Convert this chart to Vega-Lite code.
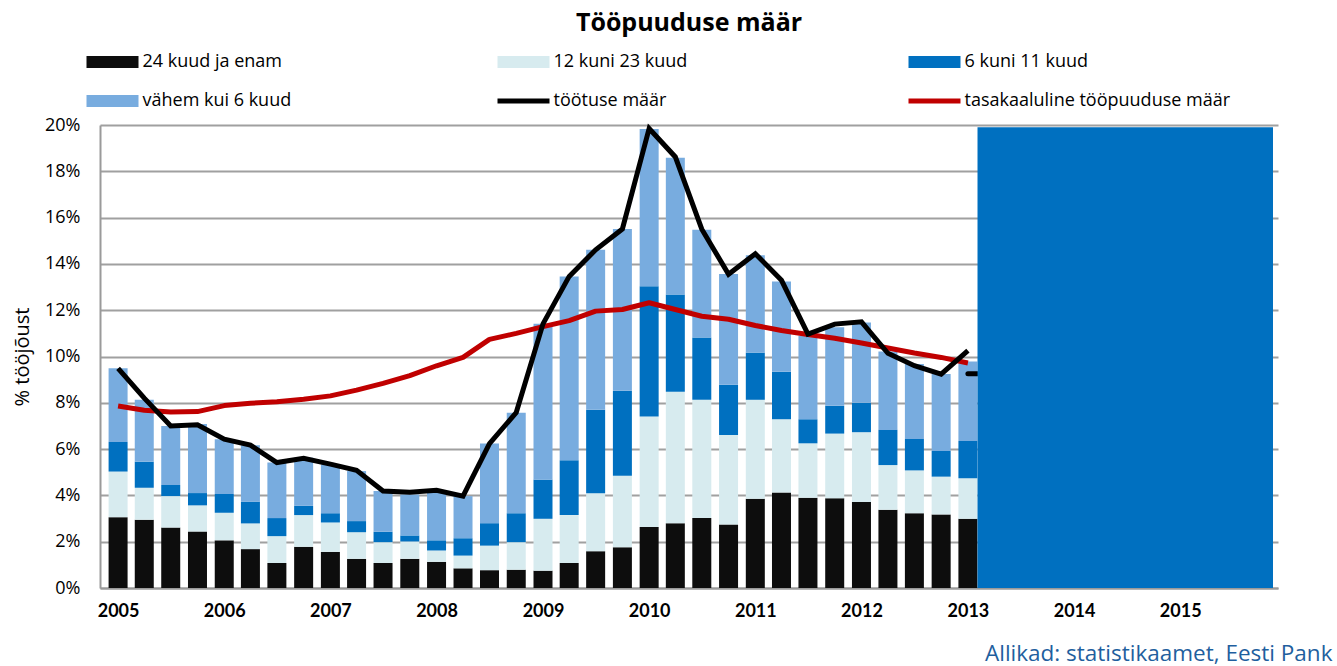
{
  "$schema": "https://vega.github.io/schema/vega-lite/v6.json",
  "width": 1178,
  "height": 463,
  "autosize": {"type": "none"},
  "padding": {"left": 100, "top": 125, "right": 59, "bottom": 78},
  "background": "white",
  "title": {"text": "Tööpuuduse määr", "font": "Open Sans", "fontSize": 25, "fontWeight": "bold", "color": "#000000", "anchor": "middle", "offset": 17},
  "config": {
    "view": {"stroke": null},
    "axis": {"labelFont": "Open Sans", "titleFont": "Open Sans", "labelColor": "#000000", "titleColor": "#000000", "domainColor": "#9a9a9a", "domainWidth": 2, "ticks": false, "gridColor": "#a0a0a0", "gridWidth": 2}
  },
  "datasets": {
    "tootus": [
      {"kvartal": "2005-01-01", "24 kuud ja enam": 3.06, "12 kuni 23 kuud": 1.97, "6 kuni 11 kuud": 1.28, "vähem kui 6 kuud": 3.18, "töötuse määr": 9.49, "tasakaaluline tööpuuduse määr": 7.86},
      {"kvartal": "2005-04-01", "24 kuud ja enam": 2.95, "12 kuni 23 kuud": 1.38, "6 kuni 11 kuud": 1.13, "vähem kui 6 kuud": 2.67, "töötuse määr": 8.2, "tasakaaluline tööpuuduse määr": 7.68},
      {"kvartal": "2005-07-01", "24 kuud ja enam": 2.61, "12 kuni 23 kuud": 1.36, "6 kuni 11 kuud": 0.48, "vähem kui 6 kuud": 2.55, "töötuse määr": 7.0, "tasakaaluline tööpuuduse määr": 7.6},
      {"kvartal": "2005-10-01", "24 kuud ja enam": 2.44, "12 kuni 23 kuud": 1.13, "6 kuni 11 kuud": 0.53, "vähem kui 6 kuud": 2.98, "töötuse määr": 7.05, "tasakaaluline tööpuuduse määr": 7.62},
      {"kvartal": "2006-01-01", "24 kuud ja enam": 2.06, "12 kuni 23 kuud": 1.19, "6 kuni 11 kuud": 0.81, "vähem kui 6 kuud": 2.37, "töötuse määr": 6.43, "tasakaaluline tööpuuduse määr": 7.88},
      {"kvartal": "2006-04-01", "24 kuud ja enam": 1.68, "12 kuni 23 kuud": 1.11, "6 kuni 11 kuud": 0.94, "vähem kui 6 kuud": 2.44, "töötuse määr": 6.17, "tasakaaluline tööpuuduse määr": 7.98},
      {"kvartal": "2006-07-01", "24 kuud ja enam": 1.08, "12 kuni 23 kuud": 1.16, "6 kuni 11 kuud": 0.78, "vähem kui 6 kuud": 2.4, "töötuse määr": 5.42, "tasakaaluline tööpuuduse määr": 8.05},
      {"kvartal": "2006-10-01", "24 kuud ja enam": 1.78, "12 kuni 23 kuud": 1.37, "6 kuni 11 kuud": 0.4, "vähem kui 6 kuud": 2.08, "töötuse määr": 5.6, "tasakaaluline tööpuuduse määr": 8.15},
      {"kvartal": "2007-01-01", "24 kuud ja enam": 1.56, "12 kuni 23 kuud": 1.27, "6 kuni 11 kuud": 0.4, "vähem kui 6 kuud": 2.11, "töötuse määr": 5.35, "tasakaaluline tööpuuduse määr": 8.3},
      {"kvartal": "2007-04-01", "24 kuud ja enam": 1.26, "12 kuni 23 kuud": 1.15, "6 kuni 11 kuud": 0.48, "vähem kui 6 kuud": 2.16, "töötuse määr": 5.08, "tasakaaluline tööpuuduse määr": 8.55},
      {"kvartal": "2007-07-01", "24 kuud ja enam": 1.08, "12 kuni 23 kuud": 0.9, "6 kuni 11 kuud": 0.45, "vähem kui 6 kuud": 1.76, "töötuse määr": 4.19, "tasakaaluline tööpuuduse määr": 8.84},
      {"kvartal": "2007-10-01", "24 kuud ja enam": 1.26, "12 kuni 23 kuud": 0.75, "6 kuni 11 kuud": 0.26, "vähem kui 6 kuud": 1.77, "töötuse määr": 4.14, "tasakaaluline tööpuuduse määr": 9.17},
      {"kvartal": "2008-01-01", "24 kuud ja enam": 1.13, "12 kuni 23 kuud": 0.49, "6 kuni 11 kuud": 0.44, "vähem kui 6 kuud": 2.13, "töötuse määr": 4.22, "tasakaaluline tööpuuduse määr": 9.6},
      {"kvartal": "2008-04-01", "24 kuud ja enam": 0.85, "12 kuni 23 kuud": 0.55, "6 kuni 11 kuud": 0.75, "vähem kui 6 kuud": 1.82, "töötuse määr": 3.97, "tasakaaluline tööpuuduse määr": 9.96},
      {"kvartal": "2008-07-01", "24 kuud ja enam": 0.77, "12 kuni 23 kuud": 1.06, "6 kuni 11 kuud": 0.97, "vähem kui 6 kuud": 3.44, "töötuse määr": 6.24, "tasakaaluline tööpuuduse määr": 10.74},
      {"kvartal": "2008-10-01", "24 kuud ja enam": 0.79, "12 kuni 23 kuud": 1.19, "6 kuni 11 kuud": 1.25, "vähem kui 6 kuud": 4.34, "töötuse määr": 7.58, "tasakaaluline tööpuuduse määr": 11.0},
      {"kvartal": "2009-01-01", "24 kuud ja enam": 0.75, "12 kuni 23 kuud": 2.24, "6 kuni 11 kuud": 1.69, "vähem kui 6 kuud": 6.73, "töötuse määr": 11.41, "tasakaaluline tööpuuduse määr": 11.29},
      {"kvartal": "2009-04-01", "24 kuud ja enam": 1.08, "12 kuni 23 kuud": 2.07, "6 kuni 11 kuud": 2.37, "vähem kui 6 kuud": 7.94, "töötuse määr": 13.46, "tasakaaluline tööpuuduse määr": 11.55},
      {"kvartal": "2009-07-01", "24 kuud ja enam": 1.59, "12 kuni 23 kuud": 2.5, "6 kuni 11 kuud": 3.61, "vähem kui 6 kuud": 6.91, "töötuse määr": 14.61, "tasakaaluline tööpuuduse määr": 11.96},
      {"kvartal": "2009-10-01", "24 kuud ja enam": 1.76, "12 kuni 23 kuud": 3.09, "6 kuni 11 kuud": 3.67, "vähem kui 6 kuud": 6.99, "töötuse määr": 15.51, "tasakaaluline tööpuuduse määr": 12.03},
      {"kvartal": "2010-01-01", "24 kuud ja enam": 2.63, "12 kuni 23 kuud": 4.78, "6 kuni 11 kuud": 5.62, "vähem kui 6 kuud": 6.8, "töötuse määr": 19.85, "tasakaaluline tööpuuduse määr": 12.32},
      {"kvartal": "2010-04-01", "24 kuud ja enam": 2.8, "12 kuni 23 kuud": 5.68, "6 kuni 11 kuud": 4.2, "vähem kui 6 kuud": 5.91, "töötuse määr": 18.62, "tasakaaluline tööpuuduse määr": 12.03},
      {"kvartal": "2010-07-01", "24 kuud ja enam": 3.02, "12 kuni 23 kuud": 5.11, "6 kuni 11 kuud": 2.69, "vähem kui 6 kuud": 4.66, "töötuse määr": 15.5, "tasakaaluline tööpuuduse määr": 11.74},
      {"kvartal": "2010-10-01", "24 kuud ja enam": 2.74, "12 kuni 23 kuud": 3.87, "6 kuni 11 kuud": 2.17, "vähem kui 6 kuud": 4.78, "töötuse määr": 13.55, "tasakaaluline tööpuuduse määr": 11.61},
      {"kvartal": "2011-01-01", "24 kuud ja enam": 3.86, "12 kuni 23 kuud": 4.27, "6 kuni 11 kuud": 2.04, "vähem kui 6 kuud": 4.2, "töötuse määr": 14.44, "tasakaaluline tööpuuduse määr": 11.34},
      {"kvartal": "2011-04-01", "24 kuud ja enam": 4.12, "12 kuni 23 kuud": 3.17, "6 kuni 11 kuud": 2.05, "vähem kui 6 kuud": 3.9, "töötuse määr": 13.29, "tasakaaluline tööpuuduse määr": 11.12},
      {"kvartal": "2011-07-01", "24 kuud ja enam": 3.9, "12 kuni 23 kuud": 2.35, "6 kuni 11 kuud": 1.04, "vähem kui 6 kuud": 3.61, "töötuse määr": 10.97, "tasakaaluline tööpuuduse määr": 10.95},
      {"kvartal": "2011-10-01", "24 kuud ja enam": 3.88, "12 kuni 23 kuud": 2.79, "6 kuni 11 kuud": 1.2, "vähem kui 6 kuud": 3.39, "töötuse määr": 11.4, "tasakaaluline tööpuuduse määr": 10.79},
      {"kvartal": "2012-01-01", "24 kuud ja enam": 3.71, "12 kuni 23 kuud": 3.02, "6 kuni 11 kuud": 1.27, "vähem kui 6 kuud": 3.47, "töötuse määr": 11.5, "tasakaaluline tööpuuduse määr": 10.58},
      {"kvartal": "2012-04-01", "24 kuud ja enam": 3.38, "12 kuni 23 kuud": 1.93, "6 kuni 11 kuud": 1.52, "vähem kui 6 kuud": 3.39, "töötuse määr": 10.14, "tasakaaluline tööpuuduse määr": 10.37},
      {"kvartal": "2012-07-01", "24 kuud ja enam": 3.23, "12 kuni 23 kuud": 1.85, "6 kuni 11 kuud": 1.36, "vähem kui 6 kuud": 3.24, "töötuse määr": 9.6, "tasakaaluline tööpuuduse määr": 10.15},
      {"kvartal": "2012-10-01", "24 kuud ja enam": 3.18, "12 kuni 23 kuud": 1.63, "6 kuni 11 kuud": 1.11, "vähem kui 6 kuud": 3.32, "töötuse määr": 9.24, "tasakaaluline tööpuuduse määr": 9.96},
      {"kvartal": "2013-01-01", "24 kuud ja enam": 2.99, "12 kuni 23 kuud": 1.75, "6 kuni 11 kuud": 1.61, "vähem kui 6 kuud": 3.43, "töötuse määr": 10.25, "tasakaaluline tööpuuduse määr": 9.72}
    ],
    "prognoos": [
      {"kvartal": "2013-01-01", "töötuse määr": 9.25},
      {"kvartal": "2013-04-01", "töötuse määr": 9.25}
    ],
    "prognoosiala": [
      {"algus": "2013-02-03", "lõpp": "2015-11-16", "alt": 0, "üla": 19.9}
    ]
  },
  "encoding": {
    "x": {
      "field": "kvartal", "type": "temporal",
      "scale": {"type": "utc", "domain": [{"year": 2004, "month": 11, "date": 17, "utc": true}, {"year": 2015, "month": 11, "date": 16, "utc": true}]},
      "axis": {
        "values": [
          {"year": 2005, "month": 1, "date": 1, "utc": true}, {"year": 2006, "month": 1, "date": 1, "utc": true},
          {"year": 2007, "month": 1, "date": 1, "utc": true}, {"year": 2008, "month": 1, "date": 1, "utc": true},
          {"year": 2009, "month": 1, "date": 1, "utc": true}, {"year": 2010, "month": 1, "date": 1, "utc": true},
          {"year": 2011, "month": 1, "date": 1, "utc": true}, {"year": 2012, "month": 1, "date": 1, "utc": true},
          {"year": 2013, "month": 1, "date": 1, "utc": true}, {"year": 2014, "month": 1, "date": 1, "utc": true},
          {"year": 2015, "month": 1, "date": 1, "utc": true}
        ],
        "format": "%Y", "grid": false, "labelFont": "Lato", "labelFontSize": 18, "labelFontWeight": "bold", "labelPadding": 14, "labelFlush": false,
        "title": "Allikad: statistikaamet, Eesti Pank", "titleFont": "Open Sans", "titleFontSize": 22.5, "titleFontWeight": "normal", "titleColor": "#1f5f9e",
        "titleAnchor": "end", "titleAlign": "right", "titleX": 1232, "titleY": 72, "titleBaseline": "alphabetic"
      }
    }
  },
  "layer": [
    {
      "data": {"name": "tootus"},
      "transform": [
        {"fold": ["24 kuud ja enam", "12 kuni 23 kuud", "6 kuni 11 kuud", "vähem kui 6 kuud"], "as": ["liik", "vaartus"]},
        {"window": [{"op": "row_number", "as": "jarjekord"}], "groupby": ["kvartal"]}
      ],
      "mark": {"type": "bar", "size": 19},
      "encoding": {
        "y": {
          "field": "vaartus", "type": "quantitative", "stack": "zero",
          "scale": {"domain": [0, 20], "nice": false},
          "axis": {"values": [0, 2, 4, 6, 8, 10, 12, 14, 16, 18, 20], "labelExpr": "datum.value + '%'", "labelFontSize": 18, "labelPadding": 20, "title": "% tööjõust", "titleFontSize": 20, "titleFontWeight": "normal", "titlePadding": 12}
        },
        "order": {"field": "jarjekord", "type": "quantitative", "sort": "ascending"},
        "color": {
          "field": "liik", "type": "nominal",
          "scale": {
            "domain": ["24 kuud ja enam", "12 kuni 23 kuud", "6 kuni 11 kuud", "vähem kui 6 kuud", "töötuse määr", "tasakaaluline tööpuuduse määr"],
            "range": ["#0d0d0d", "#d7ebef", "#0070c0", "#78acdf", "#000000", "#c00000"]
          },
          "legend": {
            "orient": "none", "legendX": 3.5, "legendY": -72, "direction": "horizontal", "columns": 3, "gridAlign": "all", "columnPadding": 89, "rowPadding": 21,
            "title": null, "padding": 0, "symbolSize": 169, "labelOffset": 21, "labelFont": "Open Sans", "labelFontSize": 18, "labelColor": "#000000", "labelLimit": 0,
            "symbolType": "M-4,-0.92H4V0.92H-4Z",
            "encode": {"symbols": {"update": {
              "shape": {"signal": "(datum.value === 'töötuse määr' || datum.value === 'tasakaaluline tööpuuduse määr') ? 'M-4,-0.38H4V0.38H-4Z' : 'M-4,-0.92H4V0.92H-4Z'"},
              "fill": {"scale": "color", "field": "value"},
              "stroke": {"value": "transparent"},
              "strokeWidth": {"value": 0},
              "opacity": {"value": 1},
              "fillOpacity": {"value": 1}
            }}}
          }
        }
      }
    },
    {
      "data": {"name": "tootus"},
      "transform": [{"fold": ["tasakaaluline tööpuuduse määr"], "as": ["liik", "vaartus"]}],
      "mark": {"type": "line", "strokeWidth": 5, "strokeJoin": "round"},
      "encoding": {
        "y": {"field": "vaartus", "type": "quantitative"},
        "color": {"field": "liik", "type": "nominal"}
      }
    },
    {
      "data": {"name": "tootus"},
      "transform": [{"fold": ["töötuse määr"], "as": ["liik", "vaartus"]}],
      "mark": {"type": "line", "strokeWidth": 5, "strokeJoin": "miter"},
      "encoding": {
        "y": {"field": "vaartus", "type": "quantitative"},
        "color": {"field": "liik", "type": "nominal"}
      }
    },
    {
      "data": {"name": "prognoos"},
      "mark": {"type": "line", "strokeWidth": 5, "color": "#000000", "strokeCap": "round"},
      "encoding": {
        "y": {"field": "töötuse määr", "type": "quantitative"}
      }
    },
    {
      "data": {"name": "prognoosiala"},
      "mark": {"type": "rect", "color": "#0070c0"},
      "encoding": {
        "x": {"field": "algus", "type": "temporal"},
        "x2": {"field": "lõpp"},
        "y": {"field": "alt", "type": "quantitative"},
        "y2": {"field": "üla"}
      }
    }
  ],
  "resolve": {"scale": {"color": "shared"}}
}
